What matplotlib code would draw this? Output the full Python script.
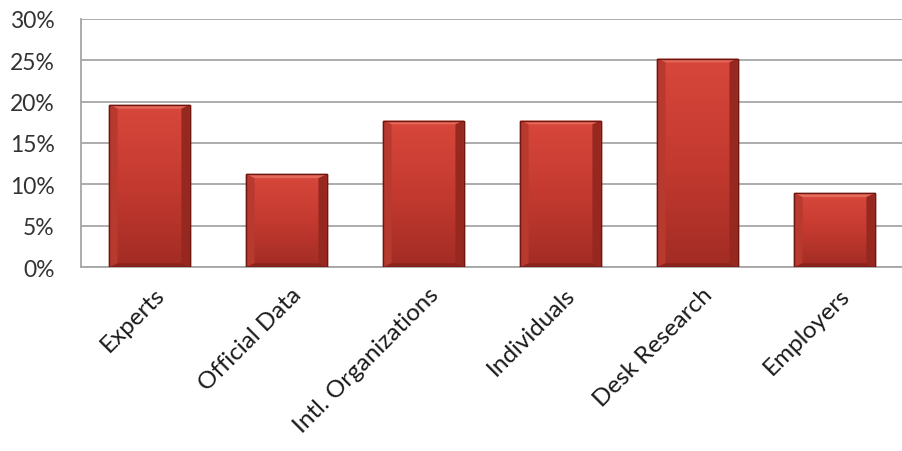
import matplotlib.pyplot as plt
import numpy as np
from matplotlib.colors import LinearSegmentedColormap
from matplotlib.ticker import FuncFormatter

categories = ['Experts', 'Official Data', 'Intl. Organizations', 'Individuals', 'Desk Research', 'Employers']
values = [19.6, 11.2, 17.7, 17.7, 25.2, 8.9]
yticks = [0, 5, 10, 15, 20, 25, 30]

plt.rcParams['font.family'] = ['Lato', 'DejaVu Sans']

fig = plt.figure(figsize=(9.03, 4.52), dpi=100)
ax = fig.add_axes([0.0897, 0.407, 0.9103, 0.549])

x = np.arange(len(categories))
bars = ax.bar(x, values, width=0.586, color='#c23a2f', edgecolor='#6e1610', linewidth=1.0, zorder=3)

# vertical gradient inside each bar
cmap = LinearSegmentedColormap.from_list('redgrad', ['#a22c24', '#c43a30', '#d8473b'])
grad = np.linspace(0, 1, 256).reshape(-1, 1)
for b in bars:
    x0, w, h = b.get_x(), b.get_width(), b.get_height()
    im = ax.imshow(grad, cmap=cmap, aspect='auto', origin='lower',
                   extent=[x0, x0 + w, 0, h], zorder=3.5)
    im.set_clip_path(b)
    # bevel: light top strip and darker side strips
    bev = 0.45
    ax.fill([x0, x0 + w, x0 + w - 0.06, x0 + 0.06], [h, h, h - bev, h - bev],
            color='#e56a5c', zorder=4, lw=0)
    ax.fill([x0, x0 + 0.06, x0 + 0.06, x0], [0, bev, h - bev, h],
            color='#b83a2f', zorder=4, lw=0)
    ax.fill([x0 + w, x0 + w - 0.06, x0 + w - 0.06, x0 + w], [0, bev, h - bev, h],
            color='#962820', zorder=4, lw=0)
    ax.fill([x0, x0 + w, x0 + w - 0.06, x0 + 0.06], [0, 0, bev, bev],
            color='#8a231c', zorder=4, lw=0)
    ax.add_patch(plt.Rectangle((x0, 0), w, h, fill=False, ec='#6e1610', lw=1.0, zorder=5))

ax.set_xlim(-0.5, len(categories) - 0.5)
ax.set_ylim(0, 30)
ax.set_yticks(yticks)
ax.yaxis.set_major_formatter(FuncFormatter(lambda v, p: f'{int(v)}%'))
ax.yaxis.grid(True, color='#a6a6a6', linewidth=1.3, zorder=0)
ax.set_axisbelow(True)

ax.set_xticks(x + 0.03, labels=categories)
for lbl in ax.get_xticklabels():
    lbl.set_rotation(45)
    lbl.set_ha('right')
    lbl.set_rotation_mode('anchor')
    lbl.set_fontsize(17.5)
    lbl.set_color('#1a1a1a')
ax.tick_params(axis='y', labelsize=16.5, colors='#333333', length=0, pad=19)
ax.tick_params(axis='x', length=0, pad=12)

for s in ['top', 'right']:
    ax.spines[s].set_visible(False)
ax.spines['left'].set_color('#a6a6a6')
ax.spines['bottom'].set_color('#a6a6a6')
ax.spines['left'].set_linewidth(1.3)
ax.spines['bottom'].set_linewidth(1.3)

fig.savefig('out.png', dpi=100)
